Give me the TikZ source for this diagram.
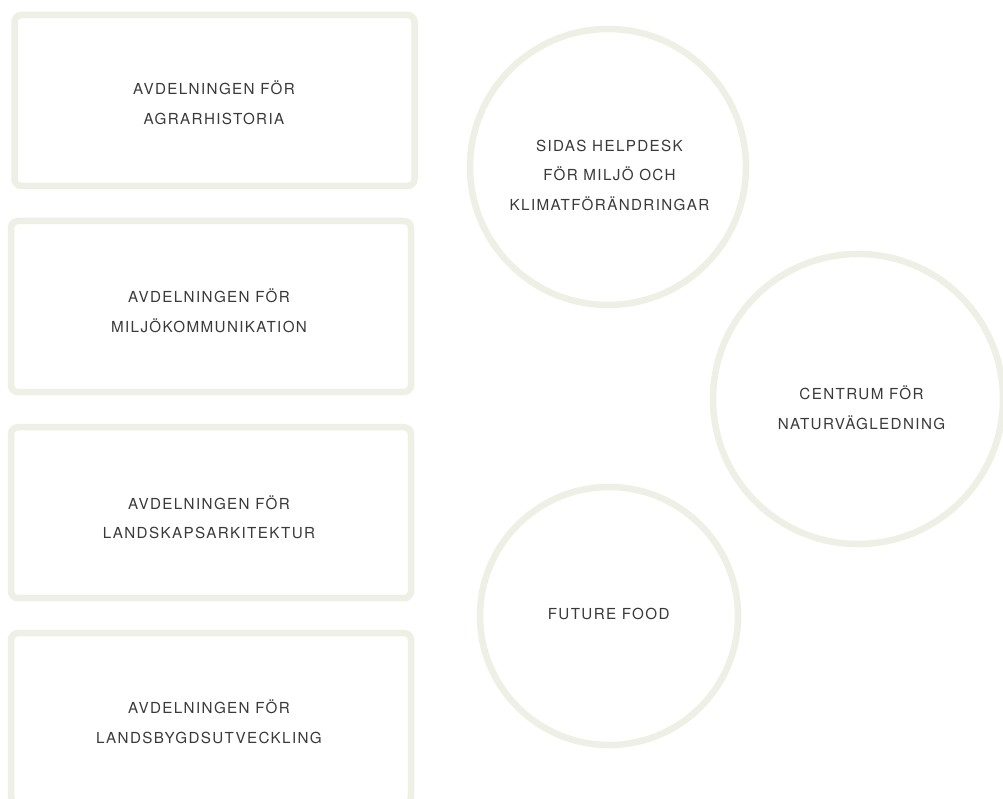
\documentclass[tikz,border=0pt]{standalone}
\usepackage{fontspec}
\setmainfont{TeX Gyre Heros}[LetterSpace=9]
\definecolor{ringcol}{RGB}{238,239,229}
\definecolor{txtcol}{RGB}{58,58,58}
\begin{document}
\begin{tikzpicture}[x=1pt,y=-1pt,
  deptbox/.style={draw=ringcol,line width=6.5pt,rounded corners=7pt,minimum width=400pt,minimum height=171pt,inner sep=0pt},
  ring/.style={draw=ringcol,line width=6.5pt,circle,inner sep=0pt},
  lbl/.style={text=txtcol,align=center,inner sep=0pt,font=\fontsize{15.2pt}{29.8pt}\selectfont}]
\useasboundingbox (0,0) rectangle (1003,799);
\clip (0,0) rectangle (1003,799);
\fill[white] (0,0) rectangle (1003,799);
% boxes
\node[deptbox] (b1) at (214.5,100.5) {};
\node[deptbox] (b2) at (211,306.5) {};
\node[deptbox] (b3) at (211,512.7) {};
\node[deptbox] (b4) at (211,718.5) {};
% circles
\node[ring,minimum size=276pt] (c1) at (608,167) {};
\node[ring,minimum size=290pt] (c2) at (858,399) {};
\node[ring,minimum size=258pt] (c3) at (609,616) {};
% labels
\node[lbl] (t1) at (214,103) {AVDELNINGEN FÖR\\AGRARHISTORIA};
\node[lbl] (t2) at (209,310.5) {AVDELNINGEN FÖR\\MILJÖKOMMUNIKATION};
\node[lbl] (t3) at (209,517.2) {AVDELNINGEN FÖR\\LANDSKAPSARKITEKTUR};
\node[lbl] (t4) at (209,721.8) {AVDELNINGEN FÖR\\LANDSBYGDSUTVECKLING};
\node[lbl] (t5) at (609.5,175.3) {SIDAS HELPDESK\\FÖR MILJÖ OCH\\KLIMATFÖRÄNDRINGAR};
\node[lbl] (t6) at (861.5,407.7) {CENTRUM FÖR\\NATURVÄGLEDNING};
\node[lbl] (t7) at (608.7,614.2) {FUTURE FOOD};
\end{tikzpicture}
\end{document}
